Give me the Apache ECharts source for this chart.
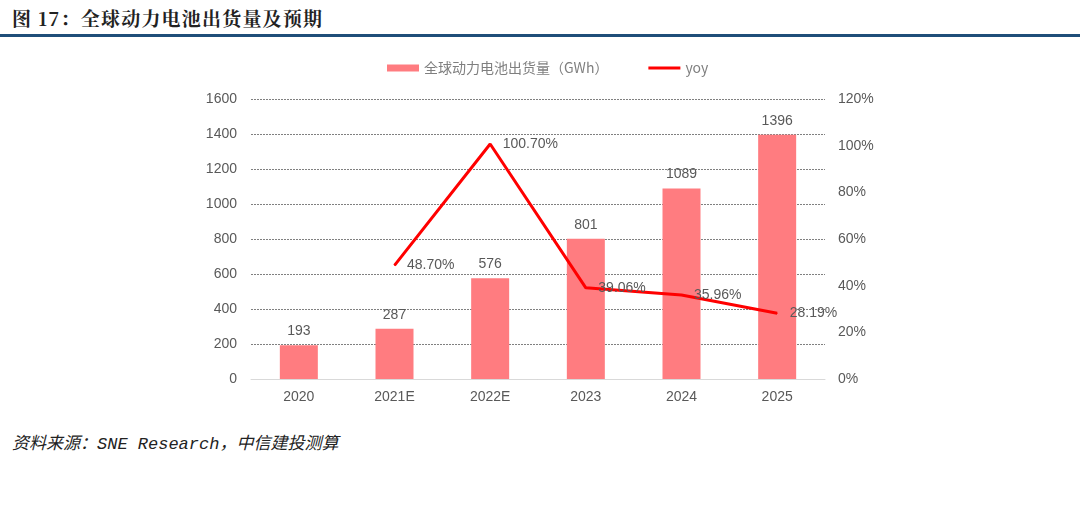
<!DOCTYPE html>
<html><head><meta charset="utf-8">
<script src="https://cdn.jsdelivr.net/npm/echarts@6/dist/echarts.min.js"></script>
<style>
html,body{margin:0;padding:0;background:#fff;width:1080px;height:510px;overflow:hidden;}
#title{position:absolute;left:12px;top:4px;font-family:"Noto Serif CJK SC","Noto Sans CJK SC",serif;font-weight:bold;font-size:19px;letter-spacing:1.2px;color:#222;}
#rule{position:absolute;left:0;top:34px;width:1080px;height:3px;background:#1f4e79;}
#src{position:absolute;left:12px;top:429px;font-family:"Liberation Mono","Noto Sans CJK SC",monospace;font-style:italic;font-size:17px;color:#222;}
#chart{position:absolute;left:0;top:40px;width:1080px;height:380px;}
</style></head>
<body>
<div id="title">图 17：全球动力电池出货量及预期</div>
<div id="rule"></div>
<div id="chart"></div>
<div id="src">资料来源：SNE Research，中信建投测算</div>
<script>
const categories = ['2020','2021E','2022E','2023','2024','2025'];
const shipments = [193, 287, 576, 801, 1089, 1396];
const yoy = ['-', 48.70, 100.70, 39.06, 35.96, 28.19];
const leftTicks = [0,1600,200];
const rightTicks = [0,120,20];

const chart = echarts.init(document.getElementById('chart'));
const font = '"Noto Sans CJK SC","Microsoft YaHei",sans-serif';
const num = 'Arial, "Liberation Sans"';
chart.setOption({
  animation:false,
  legend:{
    top:16, left:382, itemGap:40,
    textStyle:{color:'#7f7f7f',fontSize:14,fontFamily:font},
    data:[
      {name:'全球动力电池出货量（GWh）', icon:'rect', itemStyle:{color:'#ff7c80'}},
      {name:'yoy', icon:'path://M0,0H10V1H0Z', itemStyle:{color:'#ff0000'}}
    ],
    itemWidth:32, itemHeight:7
  },
  grid:{left:251, right:255, top:59, bottom:41},
  xAxis:{
    type:'category', data:categories,
    axisLine:{lineStyle:{color:'#d9d9d9'}},
    axisTick:{show:false},
    axisLabel:{color:'#595959',fontSize:14,margin:11,fontFamily:num}
  },
  yAxis:[{
    type:'value', min:leftTicks[0], max:leftTicks[1], interval:leftTicks[2],
    axisLabel:{color:'#595959',fontSize:14,margin:14,fontFamily:num,formatter:v=>String(v)},
    splitLine:{lineStyle:{color:'#808080',type:[2,1],width:1}},
    axisLine:{show:false}, axisTick:{show:false}
  },{
    type:'value', min:rightTicks[0], max:rightTicks[1], interval:rightTicks[2],
    axisLabel:{color:'#595959',fontSize:14,margin:13,formatter:'{value}%',fontFamily:num},
    splitLine:{show:false}, axisLine:{show:false}, axisTick:{show:false}
  }],
  series:[{
    name:'全球动力电池出货量（GWh）', type:'bar', data:shipments, barWidth:38,
    itemStyle:{color:'#ff7c80'},
    label:{show:true,position:'top',color:'#595959',fontSize:14,distance:7,fontFamily:num}
  },{
    name:'yoy', type:'line', yAxisIndex:1, data:yoy, symbol:'circle', symbolSize:1, showSymbol:true,
    lineStyle:{color:'#ff0000',width:3}, itemStyle:{color:'#ff0000'},
    label:{show:true,position:'right',distance:12,color:'#595959',fontSize:14,
      formatter:p=>(typeof p.value==='number'?p.value.toFixed(2)+'%':''),fontFamily:num}
  }]
});
</script>
</body></html>
